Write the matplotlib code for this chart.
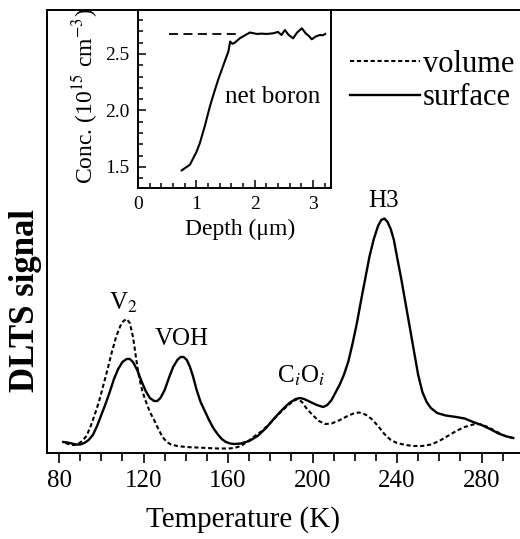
import matplotlib
matplotlib.use("Agg")
import matplotlib.pyplot as plt
from matplotlib.ticker import MultipleLocator, NullLocator

plt.rcParams['font.family'] = ['Liberation Serif', 'DejaVu Serif']
plt.rcParams['mathtext.fontset'] = 'stix'

# ---- main DLTS spectra (arbitrary units) ----
surf_T = [82, 84, 86, 88, 90, 92, 94, 96, 98, 100, 102, 104, 106, 108, 110, 112, 113.5, 115, 117,
          119, 121, 123, 125, 126.5, 128, 130, 132, 134, 136, 137.5, 139, 140.5, 142, 143.5, 145,
          147, 149, 151, 153, 155, 157, 159, 161, 163, 166, 170, 174, 178, 182, 186, 189, 192, 194,
          196, 199, 202, 205, 207, 209, 211, 213, 215, 217, 219, 221, 223, 225, 227, 229, 231,
          232.5, 234, 235.5, 237, 238.5, 240, 242, 244, 246, 248, 250, 252, 254, 256, 259, 263,
          268, 272, 276, 280, 284, 288, 292, 295]
surf_S = [11, 10.5, 9.5, 8.5, 8.5, 10, 13, 18, 27, 38, 49, 61, 74, 84, 91, 94, 94, 91, 83,
          72, 62, 55, 52, 52, 55, 63, 75, 86, 93, 96, 96, 93, 86, 76, 64,
          51, 42, 33, 25, 19, 14, 11, 9.5, 9, 9.5, 12, 17, 25, 35, 44, 50, 54, 55,
          54, 51, 48, 46, 48, 53, 61, 69, 79, 92, 110, 130, 153, 175, 197, 214, 227,
          233, 234.5, 231, 224, 213, 196, 174, 150, 126, 102, 78, 61, 51, 45, 40, 37.5,
          36, 34.5, 31, 28, 24, 19.5, 16.5, 15]

vol_T = [83, 85, 87, 89, 91, 93, 95, 97, 99, 101, 103, 105, 107, 109, 110.5, 112, 113.5, 115,
         116, 117, 118, 119.4, 121, 123, 125, 127, 129, 131, 133, 136, 140, 145, 150, 155, 160,
         163, 166, 169, 172, 176, 180, 184, 188, 191, 193, 195, 197, 200, 203, 206, 209, 213,
         217, 220, 222, 225, 228, 231, 234, 237, 240, 244, 248, 252, 256, 260, 264, 268, 272,
         276, 279, 283, 287, 291, 295]
vol_S = [10, 8.5, 8, 9, 12, 17, 27, 39, 52, 68, 84, 101, 116, 127, 132, 134, 130, 116,
         102, 87, 75, 62, 52, 41, 33, 24, 16, 11, 8.5, 7, 6, 5.5, 5, 4.5, 4.5,
         5, 7, 11, 16, 22, 30, 39, 47, 52, 54, 51, 45, 38, 32, 29, 29.5, 33,
         37.5, 40, 40.5, 38.5, 34, 27, 19, 13, 10, 8, 7, 7, 8.5, 12, 17, 22, 26,
         28.5, 29, 26, 21.5, 17, 15]

# ---- inset: net boron depth profile ----
depth = [0.75, 0.89, 1.0, 1.06, 1.15, 1.23, 1.30, 1.38, 1.45, 1.52, 1.55, 1.58, 1.62, 1.66,
         1.75, 1.85, 1.92, 2.04, 2.12, 2.21, 2.32, 2.40, 2.46, 2.52, 2.58, 2.66, 2.73, 2.81,
         2.88, 2.93, 2.98, 3.05, 3.12, 3.17, 3.21]
conc = [1.47, 1.52, 1.63, 1.71, 1.87, 2.03, 2.15, 2.28, 2.38, 2.48, 2.52, 2.61, 2.59, 2.60,
        2.64, 2.67, 2.69, 2.677, 2.68, 2.677, 2.683, 2.695, 2.668, 2.712, 2.67, 2.639, 2.69, 2.727,
        2.68, 2.66, 2.63, 2.655, 2.668, 2.665, 2.677]
ref_depth = [0.54, 1.75]
ref_conc = [2.68, 2.68]

x_ticks = [80, 120, 160, 200, 240, 280]
inset_xticks = [0, 1, 2, 3]
inset_yticks = [1.5, 2.0, 2.5]

fig = plt.figure(figsize=(5.2, 5.39), dpi=100)
ax = fig.add_axes([47/520, 1-453/539, 473/520, 443/539])

ax.plot(vol_T, vol_S, color='black', lw=1.5, linestyle=(0, (2, 1.3)), label='volume')
ax.plot(surf_T, surf_S, color='black', lw=1.7, label='surface', solid_joinstyle='round')

ax.set_xlim(74.3, 298.2)
ax.set_ylim(0, 443)
ax.set_xticks(x_ticks)
ax.xaxis.set_minor_locator(MultipleLocator(10))
ax.yaxis.set_major_locator(NullLocator())
ax.tick_params(axis='x', which='major', direction='out', length=7, width=1.2, labelsize=18, pad=5)
ax.tick_params(axis='x', which='minor', direction='out', length=5.5, width=1.2)
ax.spines['right'].set_visible(False)
for s in ['left', 'top', 'bottom']:
    ax.spines[s].set_linewidth(1.4)

ax.set_xlabel('Temperature (K)', fontsize=21)
ax.xaxis.set_label_coords(0.414, -0.120)
ax.set_ylabel('DLTS signal', fontsize=25, fontweight='bold', va='center')
ax.yaxis.set_label_coords(-0.046, 0.345)

ax.text(110.5, 143, r'V$_2$', fontsize=18, ha='center', va='baseline')
ax.text(138, 108, 'VOH', fontsize=18, ha='center', va='baseline')
ax.text(194.7, 70, r'C$_i$O$_i$', fontsize=18, ha='center', va='baseline')
ax.text(233.8, 246, 'H3', fontsize=18, ha='center', va='baseline')

ax.legend(loc='upper left', bbox_to_anchor=(0.6406, 0.910), frameon=False, fontsize=22,
          handlelength=2.29, handletextpad=0.1, labelspacing=0.15, borderpad=0, borderaxespad=0)

# ---- inset ----
ins = fig.add_axes([138/520, 1-188/539, 193/520, 178/539])
ins.plot(ref_depth, ref_conc, color='black', lw=1.3, linestyle=(0, (5, 3)))
ins.plot(depth, conc, color='black', lw=1.5)
ins.set_xlim(0, 3.31)
ins.set_ylim(1.314, 2.889)
ins.set_xticks(inset_xticks)
ins.set_yticks(inset_yticks)
ins.set_yticklabels(['1.5', '2.0', '2.5'])
ins.xaxis.set_minor_locator(MultipleLocator(0.2))
ins.yaxis.set_minor_locator(MultipleLocator(0.1))
ins.tick_params(which='major', direction='in', length=6, width=1.1, labelsize=14)
ins.tick_params(which='minor', direction='in', length=3.5, width=1.1)
ins.tick_params(axis='x', pad=6)
ins.tick_params(axis='y', pad=6)
for s in ins.spines.values():
    s.set_linewidth(1.4)
ins.set_xlabel('Depth (μm)', fontsize=17, va='center')
ins.xaxis.set_label_coords(0.528, -0.230)
ins.set_ylabel(r'Conc. (10$^{15}$ cm$^{-3}$)', fontsize=17, va='center')
ins.yaxis.set_label_coords(-0.275, 0.517)
ins.text(2.31, 2.066, 'net boron', fontsize=18, ha='center', va='baseline')

fig.savefig('out.png', dpi=100)
